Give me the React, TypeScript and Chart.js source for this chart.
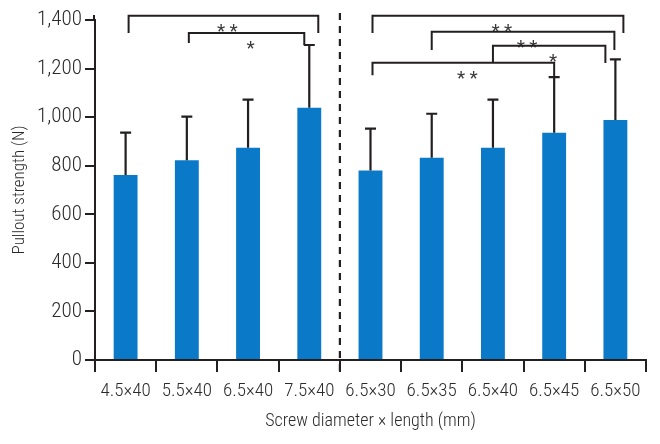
import React, { useEffect, useRef } from "react";
import { Chart, registerables } from "chart.js";

Chart.register(...registerables);

const categories = [
  "4.5×40", "5.5×40", "6.5×40", "7.5×40",
  "6.5×30", "6.5×35", "6.5×40", "6.5×45", "6.5×50",
];
const means = [762, 822, 874, 1039, 780, 833, 874, 936, 988];
const sds = [174, 180, 198, 258, 173, 181, 198, 229, 250];

// significance brackets (category indices, heights in N)
const bracketFrom = [0, 1, 4, 5, 6, 4];
const bracketTo = [3, 3, 8, 8, 8, 7];
const bracketLevel = [1417, 1346, 1417, 1352, 1294, 1224];
const bracketLeftEnd = [1346, 1305, 1346, 1276, 1224, 1173];
const bracketRightEnd = [1346, 1297, 1346, 1276, 1223, 1165];
const bracketLabel = ["* *", "*", "* *", "* *", "*", "* *"];

const yTicks = [0, 200, 400, 600, 800, 1000, 1200, 1400];

const INK = "#231f20";
const TEXT = "#2b2b2b";
const BLUE = "#0a7ac8";
const FONT = "'Roboto Condensed', 'DejaVu Sans Condensed', 'DejaVu Sans', sans-serif";

// pixel nudges of bracket legs relative to bar centres (style only)
const legOffL = [3, 2, 2, 0, 0, 2];
const legOffR = [9, -5, 8, -1, -10, 0];

const annotPlugin = {
  id: "annot",
  afterDatasetsDraw(chart: any) {
    const { ctx, scales, chartArea } = chart;
    const x = scales.x;
    const y = scales.y;
    ctx.save();
    ctx.strokeStyle = INK;
    ctx.lineCap = "butt";
    // y-axis line runs a little above the top tick
    ctx.lineWidth = 2;
    ctx.beginPath();
    ctx.moveTo(chartArea.left - 1, chartArea.top + 1);
    ctx.lineTo(chartArea.left - 1, chartArea.top - 5);
    ctx.stroke();
    // error bars
    ctx.lineWidth = 2.2;
    means.forEach((m, i) => {
      const px = x.getPixelForValue(i);
      const y0 = y.getPixelForValue(m);
      const y1 = y.getPixelForValue(m + sds[i]);
      ctx.beginPath();
      ctx.moveTo(px, y0);
      ctx.lineTo(px, y1);
      ctx.moveTo(px - 5.5, y1);
      ctx.lineTo(px + 5.5, y1);
      ctx.stroke();
    });
    // dashed divider
    const dx = (x.getPixelForValue(3) + x.getPixelForValue(4)) / 2;
    ctx.setLineDash([7, 6]);
    ctx.beginPath();
    ctx.moveTo(dx, chartArea.top - 7);
    ctx.lineTo(dx, y.bottom + 12);
    ctx.stroke();
    ctx.setLineDash([]);
    // brackets
    ctx.lineWidth = 2;
    ctx.lineJoin = "miter";
    ctx.fillStyle = "#3a3a3a";
    ctx.font = `400 19px ${FONT}`;
    ctx.textAlign = "center";
    ctx.textBaseline = "alphabetic";
    bracketFrom.forEach((f, i) => {
      const xl = x.getPixelForValue(f) + legOffL[i];
      const xr = x.getPixelForValue(bracketTo[i]) + legOffR[i];
      const yh = y.getPixelForValue(bracketLevel[i]);
      const yl = y.getPixelForValue(bracketLeftEnd[i]);
      const yr = y.getPixelForValue(bracketRightEnd[i]);
      ctx.beginPath();
      ctx.moveTo(xl, yl);
      ctx.lineTo(xl, yh);
      ctx.lineTo(xr, yh);
      ctx.lineTo(xr, yr);
      ctx.stroke();
      ctx.fillText(bracketLabel[i], (xl + xr) / 2 + 4, yh + 21);
    });
    ctx.restore();
  },
};

export default function App() {
  const ref = useRef<HTMLCanvasElement | null>(null);
  useEffect(() => {
    if (!ref.current) return;
    const chart = new Chart(ref.current, {
      type: "bar",
      data: {
        labels: categories,
        datasets: [
          {
            data: means,
            backgroundColor: BLUE,
            barPercentage: 0.39,
            categoryPercentage: 1,
          },
        ],
      },
      options: {
        responsive: false,
        animation: false,
        devicePixelRatio: 1,
        layout: { padding: { left: 0, right: 14, top: 20, bottom: 0 } },
        plugins: { legend: { display: false }, tooltip: { enabled: false } },
        scales: {
          x: {
            grid: {
              display: true,
              drawOnChartArea: false,
              drawTicks: true,
              tickLength: 12,
              offset: true,
              color: INK,
              lineWidth: 2,
            },
            border: { display: true, color: INK, width: 2 },
            ticks: {
              color: TEXT,
              font: { family: FONT, size: 19, weight: "300" },
              padding: 8,
              maxRotation: 0,
              autoSkip: false,
            },
            title: {
              display: true,
              text: "Screw diameter × length (mm)",
              color: TEXT,
              font: { family: FONT, size: 18, weight: "300" },
              padding: { top: 0, bottom: 12 },
            },
            afterFit: (s: any) => {
              s.height = 84;
            },
          },
          y: {
            min: 0,
            max: 1400,
            afterBuildTicks: (s: any) => {
              s.ticks = yTicks.map((v) => ({ value: v }));
            },
            grid: {
              display: true,
              drawOnChartArea: false,
              drawTicks: true,
              tickLength: 10,
              color: INK,
              lineWidth: 2,
            },
            border: { display: true, color: INK, width: 2 },
            ticks: {
              color: TEXT,
              font: { family: FONT, size: 21, weight: "300" },
              padding: 3,
              callback: (v: any) => Number(v).toLocaleString("en-US"),
            },
            title: {
              display: true,
              text: "Pullout strength (N)",
              color: TEXT,
              font: { family: FONT, size: 17, weight: "300" },
              padding: { top: 10, bottom: 0 },
            },
            afterFit: (s: any) => {
              s.width = 95;
            },
          },
        },
      },
      plugins: [annotPlugin],
    });
    return () => chart.destroy();
  }, []);
  return (
    <div style={{ position: "fixed", left: 0, top: 0, width: 660, height: 444, background: "#fff" }}>
      <canvas ref={ref} width={660} height={444} style={{ display: "block" }} />
    </div>
  );
}
